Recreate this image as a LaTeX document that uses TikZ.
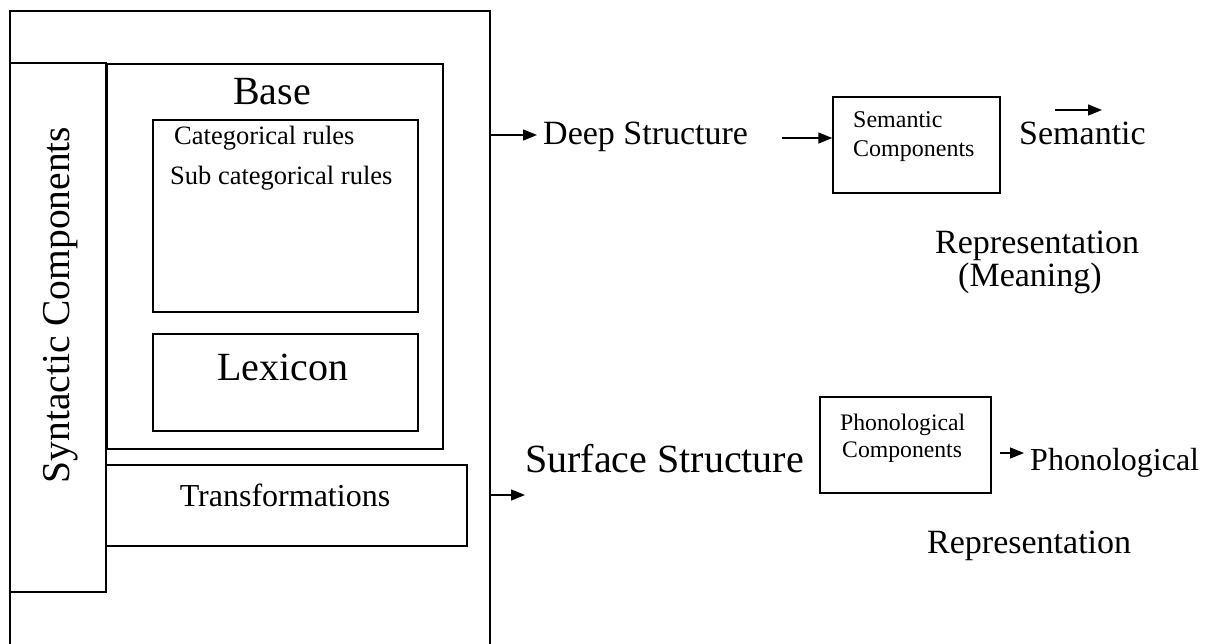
\documentclass[tikz,border=0pt]{standalone}
\usepackage{fontspec}
\setmainfont{Liberation Serif}
\usetikzlibrary{arrows.meta}
\newcommand\myfs[1]{\fontsize{#1pt}{#1pt}\selectfont}
\begin{document}
\begin{tikzpicture}[x=1pt,y=-1pt,
  box/.style={draw,line width=1.4pt,rectangle,inner sep=0pt},
  txt/.style={inner sep=0pt,anchor=base west},
  ctxt/.style={inner sep=0pt,anchor=base},
  arr/.style={line width=1.4pt,-{Triangle[length=14pt,width=11pt]}}]
\useasboundingbox (0,0) rectangle (1213,644);
% boxes
\node[box,minimum width=480pt,minimum height=650pt] (outer) at (250,336) {};
\node[box,minimum width=96pt,minimum height=529pt] (synbox) at (58,327.5) {};
\node[box,minimum width=336pt,minimum height=385pt] (basebox) at (275,256.5) {};
\node[box,minimum width=265pt,minimum height=192pt] (catbox) at (285.5,216) {};
\node[box,minimum width=265pt,minimum height=97pt] (lexbox) at (285.5,382.5) {};
\node[box,minimum width=361pt,minimum height=81pt] (trbox) at (286.5,505.5) {};
\node[box,minimum width=167pt,minimum height=96pt] (sembox) at (916.5,145) {};
\node[box,minimum width=171pt,minimum height=96pt] (phbox) at (905.5,445) {};
% texts
\node[rotate=90,inner sep=0pt] (syntxt) at (61,305) {\myfs{39.5}Syntactic Components};
\node[ctxt] (base) at (272,105) {\myfs{40}Base};
\node[txt] (cat) at (174,145) {\myfs{26.5}Categorical rules};
\node[txt] (subcat) at (170,185) {\myfs{26.5}Sub categorical rules};
\node[ctxt] (lex) at (283,380) {\myfs{40}Lexicon};
\node[ctxt] (tr) at (285,506) {\myfs{32}Transformations};
\node[txt] (deep) at (543,145) {\myfs{34}Deep Structure};
\node[txt] (sem1) at (853,128) {\myfs{24}Semantic};
\node[txt] (sem2) at (853,157) {\myfs{24}Components};
\node[txt] (semout) at (1019,145) {\myfs{34}Semantic};
\node[txt] (rep1) at (935,254) {\myfs{34}Representation};
\node[txt] (mean) at (958,287) {\myfs{34}(Meaning)};
\node[txt] (surf) at (525,472) {\myfs{40}Surface Structure};
\node[txt] (ph1) at (840,430) {\myfs{23.7}Phonological};
\node[txt] (ph2) at (842,457) {\myfs{23.7}Components};
\node[txt] (phout) at (1030,470) {\myfs{32}Phonological};
\node[txt] (rep2) at (927,553) {\myfs{34}Representation};
% connectors
\coordinate (deepend) at (537,135);
\draw[arr] (outer.east |- deepend) -- (deepend);
\coordinate (semin) at (782,138);
\draw[arr] (semin) -- (sembox.west |- semin);
\coordinate (sa1) at (1055,110);
\coordinate (sa2) at (1102,110);
\draw[arr] (sa1) -- (sa2);
\coordinate (surfend) at (525,495);
\draw[arr] (outer.east |- surfend) -- (surfend);
\coordinate (pa1) at (1000,453);
\coordinate (pa2) at (1024,453);
\draw[arr] (pa1) -- (pa2);
\end{tikzpicture}
\end{document}
